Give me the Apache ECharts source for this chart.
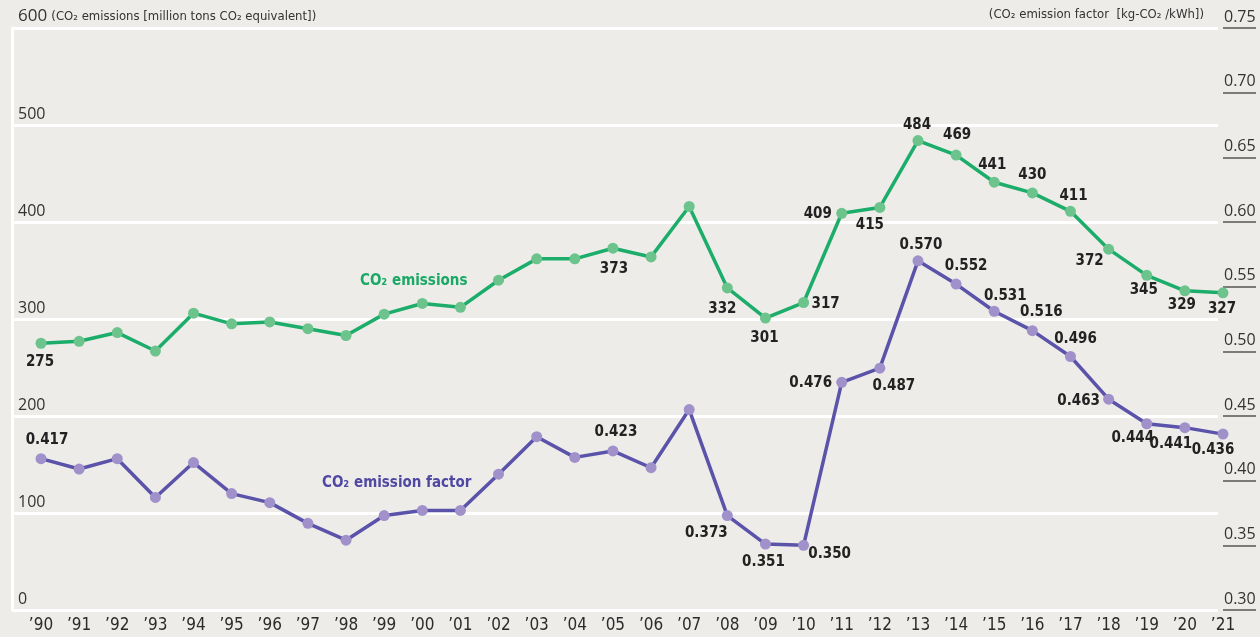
<!DOCTYPE html>
<html>
<head>
  <meta charset="utf-8">
  <title>CO2 emissions and emission factor</title>
  <script src="https://cdn.jsdelivr.net/npm/echarts@6/dist/echarts.min.js"></script>
  <style>
    html, body { margin: 0; padding: 0; background: #edece9; }
    #main { width: 1260px; height: 637px; }
  </style>
</head>
<body>
  <div id="main"></div>
  <script>
    // years on the x axis
    var years = ["’90", "’91", "’92", "’93", "’94", "’95", "’96", "’97", "’98", "’99",
      "’00", "’01", "’02", "’03", "’04", "’05", "’06", "’07", "’08", "’09",
      "’10", "’11", "’12", "’13", "’14", "’15", "’16", "’17", "’18", "’19", "’20", "’21"];

    // CO2 emissions (million tons CO2 equivalent)
    var emissions = [275, 277, 286, 267, 306, 295, 297, 290, 283, 305,
      316, 312, 340, 362, 362, 373, 364, 416, 332, 301,
      317, 409, 415, 484, 469, 441, 430, 411, 372, 345, 329, 327];

    // CO2 emission factor (kg-CO2/kWh)
    var factor = [0.417, 0.409, 0.417, 0.387, 0.414, 0.390, 0.383, 0.367, 0.354, 0.373,
      0.377, 0.377, 0.405, 0.434, 0.418, 0.423, 0.410, 0.455, 0.373, 0.351,
      0.350, 0.476, 0.487, 0.570, 0.552, 0.531, 0.516, 0.496, 0.463, 0.444, 0.441, 0.436];

    // which points get a value label, and where (offset from the point)
    var emissionLabelAt = {
      0: [-1, 19], 15: [1, 21], 18: [-5, 21], 19: [-1, 20], 20: [22, 2], 21: [-24, 1],
      22: [-10, 18], 23: [-1, -15], 24: [1, -20], 25: [-2, -17], 26: [0, -18],
      27: [3, -15], 28: [-19, 12], 29: [-3, 15], 30: [-3, 14], 31: [-1, 16]
    };
    var factorLabelAt = {
      0: [6, -19], 15: [3, -19], 18: [-21, 18], 19: [-2, 18], 20: [26, 9], 21: [-31, 1],
      22: [14, 18], 23: [3, -16], 24: [10, -18], 25: [11, -15], 26: [9, -19],
      27: [5, -17], 28: [-30, 2], 29: [-14, 14], 30: [-14, 16], 31: [-10, 16]
    };

    var FONT = '"DejaVu Sans Condensed", "Liberation Sans Narrow", sans-serif';

    function withLabels(values, where, digits) {
      return values.map(function (v, i) {
        var item = { value: v };
        if (where[i]) {
          item.label = {
            show: true,
            position: 'inside',
            offset: where[i],
            formatter: digits ? v.toFixed(digits) : String(v)
          };
        }
        return item;
      });
    }

    var chart = echarts.init(document.getElementById('main'));

    var option = {
      animation: false,
      backgroundColor: '#edece9',
      textStyle: { fontFamily: FONT },
      grid: [
        { left: 12, right: 42, top: 28, bottom: 27 },
        { left: 41, right: 37, top: 28, bottom: 27 }
      ],
      xAxis: [
        { gridIndex: 0, type: 'value', min: 0, max: 1, show: false },
        {
          gridIndex: 1, type: 'category', data: years, boundaryGap: false,
          axisLine: { show: false }, axisTick: { show: false },
          axisLabel: { margin: 7, fontSize: 17, color: '#2b2b2b', fontFamily: FONT }
        }
      ],
      yAxis: [
        {
          gridIndex: 0, type: 'value', min: 0, max: 600, interval: 100,
          axisLine: { show: true, lineStyle: { color: '#ffffff', width: 3 } },
          axisTick: { show: false },
          splitLine: { lineStyle: { color: '#ffffff', width: 3 } },
          axisLabel: {
            inside: true, margin: 6, verticalAlign: 'bottom', padding: [0, 0, 3, 0],
            fontSize: 16, color: '#333', fontFamily: '"Open Sans", sans-serif',
            formatter: function (v) {
              return v === 600 ? '{a|600} {b|(CO₂ emissions [million tons CO₂ equivalent])}' : String(v);
            },
            rich: {
              a: { fontSize: 17, color: '#333', fontFamily: '"Open Sans", sans-serif' },
              b: { fontSize: 13, color: '#333', fontFamily: FONT }
            }
          }
        },
        { gridIndex: 1, type: 'value', min: 0, max: 600, show: false },
        {
          gridIndex: 1, type: 'value', position: 'right', min: 0.30, max: 0.75, interval: 0.05,
          axisLine: { show: false },
          axisTick: { show: true, inside: false, length: 33, lineStyle: { color: '#555', width: 1.5 } },
          splitLine: { show: false },
          axisLabel: {
            margin: 1, verticalAlign: 'bottom', padding: [0, 0, 3, 0],
            fontSize: 16, color: '#333', fontFamily: '"Open Sans", sans-serif',
            formatter: function (v) { return v.toFixed(2); }
          }
        }
      ],
      series: [
        {
          name: 'CO₂ emissions', type: 'line', xAxisIndex: 1, yAxisIndex: 1,
          data: withLabels(emissions, emissionLabelAt, 0),
          symbol: 'circle', symbolSize: 11,
          lineStyle: { color: '#1dad6a', width: 3.5 },
          itemStyle: { color: '#6dc38c' },
          label: { fontSize: 15, fontWeight: 'bold', color: '#222', fontFamily: FONT },
          z: 3
        },
        {
          name: 'CO₂ emission factor', type: 'line', xAxisIndex: 1, yAxisIndex: 2,
          data: withLabels(factor, factorLabelAt, 3),
          symbol: 'circle', symbolSize: 11,
          lineStyle: { color: '#5a53a9', width: 3.5 },
          itemStyle: { color: '#a091cb' },
          label: { fontSize: 15, fontWeight: 'bold', color: '#222', fontFamily: FONT },
          z: 3
        }
      ],
      graphic: [
        {
          type: 'text', right: 56, top: 8,
          style: { text: '(CO₂ emission factor  [kg-CO₂ /kWh])', fontSize: 13, fill: '#333', fontFamily: FONT }
        },
        {
          type: 'text', left: 360, top: 274,
          style: { text: 'CO₂ emissions', fontSize: 15, fontWeight: 'bold', fill: '#1aa865', fontFamily: FONT }
        },
        {
          type: 'text', left: 322, top: 476,
          style: { text: 'CO₂ emission factor', fontSize: 15, fontWeight: 'bold', fill: '#4f48a3', fontFamily: FONT }
        }
      ]
    };

    chart.setOption(option);
  </script>
</body>
</html>
